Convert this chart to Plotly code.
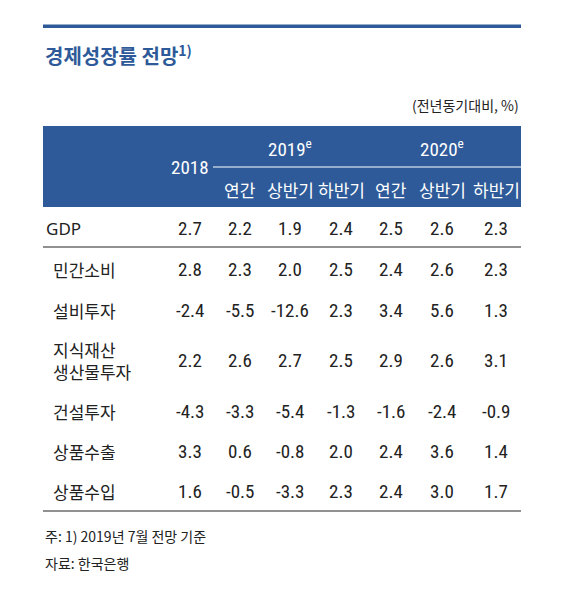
import plotly.graph_objects as go

title = "경제성장률 전망"
unit = "(전년동기대비, %)"
years = ["2018", "2019<sup>e</sup>", "2020<sup>e</sup>"]
sub_headers = ["연간", "상반기", "하반기", "연간", "상반기", "하반기"]
row_labels = ["GDP", "민간소비", "설비투자", "지식재산<br>생산물투자", "건설투자", "상품수출", "상품수입"]
values = [
    [2.7, 2.2, 1.9, 2.4, 2.5, 2.6, 2.3],
    [2.8, 2.3, 2.0, 2.5, 2.4, 2.6, 2.3],
    [-2.4, -5.5, -12.6, 2.3, 3.4, 5.6, 1.3],
    [2.2, 2.6, 2.7, 2.5, 2.9, 2.6, 3.1],
    [-4.3, -3.3, -5.4, -1.3, -1.6, -2.4, -0.9],
    [3.3, 0.6, -0.8, 2.0, 2.4, 3.6, 1.4],
    [1.6, -0.5, -3.3, 2.3, 2.4, 3.0, 1.7],
]
notes = ["주: 1) 2019년 7월 전망 기준", "자료: 한국은행"]

BLUE = "#2e5a99"
KR = "Noto Sans CJK KR"
NUM = "Liberation Sans Narrow, Roboto Condensed, Roboto"
col_x = [182, 232, 282, 333, 383, 434, 488]
row_y = [220, 261, 302, 352, 403, 443, 483]

fig = go.Figure()
shapes = [
    dict(type="rect", x0=35, x1=513, y0=16.5, y1=20, fillcolor=BLUE, line_width=0),
    dict(type="rect", x0=35, x1=513, y0=118, y1=199, fillcolor=BLUE, line_width=0),
    dict(type="line", x0=205, x1=513, y0=159, y1=159, line=dict(color="white", width=1)),
    dict(type="line", x0=35, x1=513, y0=239, y1=239, line=dict(color="#222", width=1)),
    dict(type="line", x0=35, x1=513, y0=503, y1=503, line=dict(color="#222", width=1)),
]
ann = []
def A(x, y, t, size, color="#222", font=KR, anchor="center", bold=False):
    ann.append(dict(x=x, y=y, text=("<b>%s</b>" % t) if bold else t, showarrow=False,
                    xanchor=anchor, yanchor="middle", xref="x", yref="y",
                    align="left" if anchor == "left" else "center",
                    font=dict(size=size, color=color, family=font)))

A(35, 47, title + "<sup>1)</sup>", 20, BLUE, bold=True, anchor="left")
A(513, 97, unit, 14, "#222", anchor="right")
A(col_x[0], 159, years[0], 19, "white", NUM)
A(col_x[2], 140, years[1], 19, "white", NUM)
A(col_x[5], 140, years[2], 19, "white", NUM)
for i, s in enumerate(sub_headers):
    A(col_x[i + 1], 181, s, 17, "white")
for r, lab in enumerate(row_labels):
    A(36 if r == 0 else 43, row_y[r], lab, 17, "#222",
      "Noto Sans, " + KR if r == 0 else KR, anchor="left")
    for c, v in enumerate(values[r]):
        A(col_x[c], row_y[r], f"{v:.1f}", 19, "#222", NUM)
A(35, 528, notes[0], 14, anchor="left")
A(35, 555, notes[1], 14, anchor="left")

fig.update_layout(width=581, height=597, margin=dict(l=0, r=0, t=0, b=0),
                  paper_bgcolor="white", plot_bgcolor="white",
                  shapes=shapes, annotations=ann, showlegend=False,
                  xaxis=dict(range=[0, 581], visible=False, fixedrange=True),
                  yaxis=dict(range=[597, 0], visible=False, fixedrange=True))
fig.write_html("out.html")
